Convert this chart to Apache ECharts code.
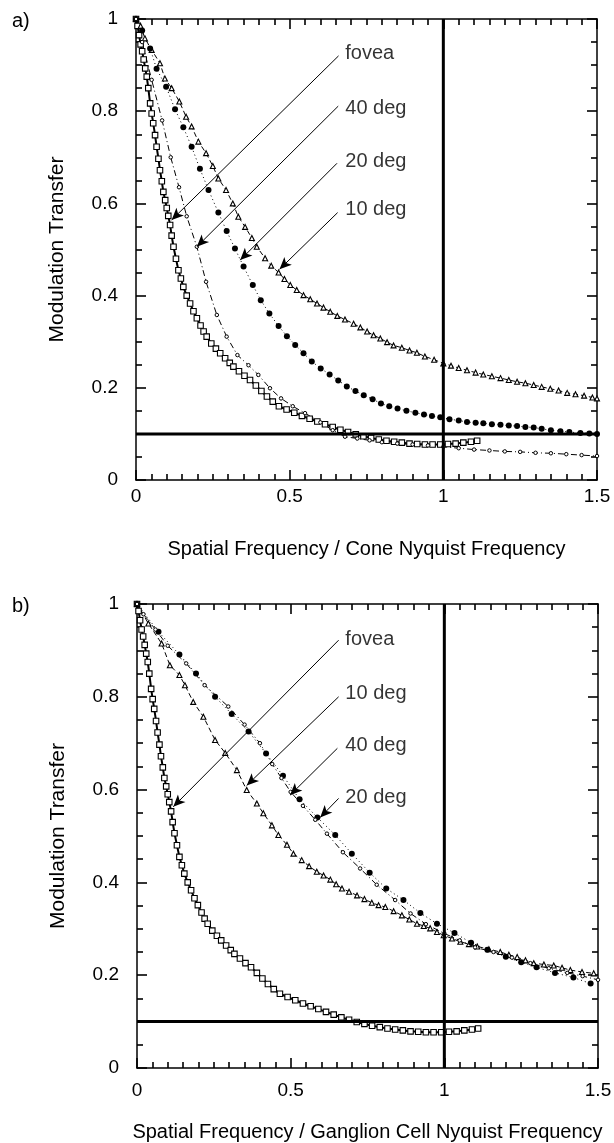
<!DOCTYPE html>
<html><head><meta charset="utf-8">
<script src="https://cdn.jsdelivr.net/npm/echarts@6/dist/echarts.min.js"></script>
<style>html,body{margin:0;padding:0;background:#fff}#c{width:614px;height:1143px}</style>
</head><body><div id="c"></div>
<script>
// ---------- data ----------
const xRange = [0, 1.5];
const yRange = [0, 1];
const panelLabels = ['a)', 'b)'];
const xTitles = ['Spatial Frequency / Cone Nyquist Frequency', 'Spatial Frequency / Ganglion Cell Nyquist Frequency'];
const yTitle = 'Modulation Transfer';

const fovea = [[0,1],[0.005,0.985],[0.01,0.965],[0.015,0.945],[0.02,0.93],[0.025,0.912],[0.03,0.893],[0.035,0.875],[0.04,0.85],[0.046,0.817],[0.051,0.795],[0.056,0.774],[0.062,0.748],[0.067,0.723],[0.073,0.697],[0.078,0.672],[0.084,0.648],[0.089,0.625],[0.095,0.607],[0.1,0.59],[0.105,0.573],[0.111,0.553],[0.116,0.53],[0.122,0.506],[0.13,0.48],[0.138,0.455],[0.146,0.437],[0.154,0.419],[0.165,0.4],[0.176,0.383],[0.187,0.366],[0.198,0.351],[0.21,0.335],[0.22,0.322],[0.23,0.311],[0.245,0.296],[0.26,0.285],[0.274,0.275],[0.29,0.264],[0.305,0.254],[0.317,0.246],[0.335,0.236],[0.353,0.226],[0.371,0.217],[0.39,0.205],[0.408,0.193],[0.426,0.181],[0.445,0.17],[0.465,0.16],[0.49,0.153],[0.515,0.146],[0.54,0.139],[0.565,0.133],[0.59,0.127],[0.615,0.121],[0.64,0.115],[0.665,0.109],[0.69,0.104],[0.715,0.099],[0.74,0.095],[0.765,0.091],[0.79,0.088],[0.815,0.085],[0.84,0.083],[0.865,0.081],[0.89,0.079],[0.915,0.078],[0.94,0.077],[0.965,0.077],[0.99,0.077],[1.015,0.078],[1.04,0.079],[1.065,0.081],[1.09,0.083],[1.11,0.085]];

const a10 = [[0,1],[0.015,0.985],[0.029,0.958],[0.051,0.933],[0.078,0.904],[0.094,0.871],[0.116,0.85],[0.141,0.821],[0.163,0.788],[0.181,0.767],[0.203,0.734],[0.228,0.709],[0.25,0.681],[0.268,0.654],[0.293,0.629],[0.315,0.6],[0.333,0.571],[0.355,0.549],[0.377,0.525],[0.393,0.506],[0.42,0.481],[0.44,0.465],[0.464,0.45],[0.483,0.436],[0.502,0.423],[0.523,0.412],[0.545,0.401],[0.567,0.392],[0.589,0.383],[0.61,0.374],[0.632,0.365],[0.655,0.356],[0.68,0.348],[0.708,0.339],[0.73,0.331],[0.752,0.322],[0.773,0.314],[0.795,0.307],[0.817,0.299],[0.838,0.292],[0.865,0.287],[0.89,0.281],[0.914,0.276],[0.94,0.268],[0.97,0.261],[1.0,0.253],[1.025,0.248],[1.05,0.243],[1.077,0.238],[1.105,0.233],[1.13,0.229],[1.158,0.225],[1.186,0.221],[1.213,0.217],[1.24,0.213],[1.267,0.21],[1.294,0.206],[1.32,0.202],[1.348,0.198],[1.375,0.194],[1.403,0.189],[1.43,0.186],[1.458,0.183],[1.485,0.179],[1.5,0.177]];

const a20 = [[0,1],[0.02,0.975],[0.046,0.936],[0.067,0.892],[0.098,0.853],[0.127,0.804],[0.154,0.765],[0.181,0.723],[0.208,0.675],[0.236,0.629],[0.268,0.58],[0.295,0.54],[0.322,0.502],[0.35,0.463],[0.38,0.423],[0.406,0.39],[0.434,0.361],[0.464,0.334],[0.491,0.312],[0.518,0.293],[0.545,0.275],[0.572,0.257],[0.601,0.242],[0.63,0.229],[0.658,0.216],[0.686,0.203],[0.714,0.193],[0.741,0.184],[0.77,0.175],[0.797,0.166],[0.824,0.16],[0.851,0.155],[0.88,0.15],[0.909,0.146],[0.937,0.142],[0.963,0.139],[0.99,0.136],[1.02,0.132],[1.05,0.129],[1.077,0.126],[1.105,0.124],[1.13,0.123],[1.158,0.121],[1.186,0.12],[1.213,0.118],[1.24,0.117],[1.267,0.115],[1.294,0.114],[1.32,0.111],[1.35,0.108],[1.381,0.106],[1.41,0.104],[1.446,0.102],[1.475,0.101],[1.5,0.1]];

const a40 = [[0,1],[0.02,0.95],[0.051,0.868],[0.085,0.78],[0.113,0.70],[0.14,0.635],[0.165,0.572],[0.198,0.506],[0.228,0.43],[0.263,0.358],[0.295,0.311],[0.33,0.271],[0.366,0.249],[0.398,0.228],[0.436,0.199],[0.472,0.177],[0.51,0.16],[0.55,0.145],[0.6,0.125],[0.64,0.108],[0.68,0.094],[0.72,0.09],[0.76,0.086],[0.8,0.082],[0.85,0.079],[0.9,0.077],[0.95,0.075],[1.0,0.072],[1.05,0.069],[1.1,0.066],[1.15,0.064],[1.2,0.062],[1.25,0.061],[1.3,0.059],[1.35,0.058],[1.4,0.056],[1.45,0.054],[1.5,0.052]];

const b10 = [[0,1],[0.037,0.958],[0.08,0.915],[0.107,0.868],[0.138,0.847],[0.156,0.825],[0.183,0.789],[0.216,0.757],[0.254,0.707],[0.287,0.679],[0.325,0.642],[0.357,0.599],[0.39,0.57],[0.411,0.549],[0.439,0.523],[0.46,0.502],[0.488,0.481],[0.509,0.462],[0.536,0.448],[0.56,0.435],[0.585,0.423],[0.607,0.415],[0.629,0.406],[0.648,0.396],[0.667,0.387],[0.69,0.38],[0.716,0.372],[0.74,0.364],[0.764,0.356],[0.786,0.351],[0.808,0.347],[0.835,0.338],[0.862,0.329],[0.886,0.32],[0.911,0.311],[0.933,0.306],[0.954,0.301],[0.976,0.293],[0.998,0.286],[1.025,0.279],[1.052,0.272],[1.08,0.267],[1.107,0.262],[1.145,0.256],[1.182,0.25],[1.21,0.244],[1.237,0.239],[1.264,0.232],[1.291,0.226],[1.324,0.223],[1.356,0.221],[1.383,0.216],[1.41,0.211],[1.448,0.207],[1.486,0.204]];

const b20 = [[0,1],[0.07,0.94],[0.138,0.891],[0.192,0.85],[0.254,0.8],[0.308,0.763],[0.363,0.725],[0.42,0.678],[0.475,0.63],[0.529,0.579],[0.587,0.54],[0.645,0.502],[0.699,0.462],[0.757,0.421],[0.811,0.387],[0.867,0.362],[0.922,0.334],[0.976,0.311],[1.033,0.291],[1.087,0.27],[1.14,0.255],[1.2,0.24],[1.25,0.228],[1.3,0.217],[1.36,0.205],[1.42,0.195],[1.476,0.182]];

const b40 = [[0,1],[0.021,0.978],[0.06,0.945],[0.1,0.91],[0.16,0.872],[0.22,0.825],[0.297,0.779],[0.35,0.74],[0.4,0.7],[0.44,0.655],[0.47,0.625],[0.5,0.595],[0.54,0.565],[0.58,0.535],[0.618,0.505],[0.67,0.465],[0.726,0.43],[0.78,0.395],[0.84,0.362],[0.89,0.333],[0.94,0.31],[1.0,0.29],[1.05,0.275],[1.1,0.26],[1.16,0.25],[1.22,0.238],[1.28,0.226],[1.34,0.215],[1.4,0.205],[1.45,0.198],[1.5,0.19]];

const thresholdLine = [[0,0.1],[1.5,0.1]];
const nyquistLine = [[1,0],[1,1]];

// annotation labels: [text, x, y] and arrows: [from, to] in data units
const labelsA = [['fovea',0.681,0.926],['40 deg',0.681,0.806],['20 deg',0.681,0.690],['10 deg',0.681,0.586]];
const arrowsA = [[[0.659,0.920],[0.116,0.564]],[[0.658,0.811],[0.198,0.506]],[[0.654,0.687],[0.339,0.477]],[[0.656,0.580],[0.467,0.457]]];
const labelsB = [['fovea',0.678,0.924],['10 deg',0.678,0.807],['40 deg',0.678,0.694],['20 deg',0.678,0.583]];
const arrowsB = [[[0.656,0.922],[0.118,0.563]],[[0.656,0.800],[0.357,0.609]],[[0.652,0.689],[0.498,0.588]],[[0.656,0.581],[0.596,0.540]]];

// ---------- chart ----------
const FONT = 'Liberation Sans, Arial, Helvetica, sans-serif';
const black = '#000';

function xAxes(gi, name, gap, labelMargin) {
  const mk = (pos) => ({gridIndex: gi, type: 'value', min: xRange[0], max: xRange[1], interval: 0.5, position: pos,
    splitLine: {show: false},
    axisLine: {show: true, onZero: false, lineStyle: {color: black, width: 1.5}},
    axisTick: {show: true, inside: true, length: 10, lineStyle: {color: black, width: 1.6}},
    minorTick: {show: true, splitNumber: 10, length: 6, lineStyle: {color: black, width: 1.6}}});
  const bottom = mk('bottom');
  bottom.axisLabel = {show: true, color: black, fontSize: 19, fontFamily: FONT, margin: labelMargin};
  bottom.name = name; bottom.nameLocation = 'middle'; bottom.nameGap = gap;
  bottom.nameTextStyle = {color: black, fontSize: 20, fontFamily: FONT};
  const top = mk('top');
  top.axisLabel = {show: false};
  return [bottom, top];
}
function yAxes(gi) {
  const mk = (pos) => ({gridIndex: gi, type: 'value', min: yRange[0], max: yRange[1], interval: 0.2, position: pos,
    splitLine: {show: false},
    axisLine: {show: true, onZero: false, lineStyle: {color: black, width: 1.5}},
    axisTick: {show: true, inside: true, length: 10, lineStyle: {color: black, width: 1.6}},
    minorTick: {show: true, splitNumber: 4, length: 6, lineStyle: {color: black, width: 1.6}}});
  const left = mk('left');
  left.axisLabel = {show: true, color: black, fontSize: 19, fontFamily: FONT, margin: 18};
  left.name = yTitle; left.nameLocation = 'middle'; left.nameGap = 68;
  left.nameTextStyle = {color: black, fontSize: 21, fontFamily: FONT};
  const right = mk('right');
  right.axisLabel = {show: false};
  return [left, right];
}

function curve(name, data, gi, opts) {
  return Object.assign({
    name: name, type: 'line', xAxisIndex: gi * 2, yAxisIndex: gi * 2, data: data,
    showAllSymbol: true, animation: false, silent: true, z: 3
  }, opts);
}
const styleFovea = {symbol: 'rect', symbolSize: 5.5, itemStyle: {color: '#fff', borderColor: black, borderWidth: 1.1}, lineStyle: {color: black, width: 2}};
const style10 = {symbol: 'triangle', symbolSize: 5, itemStyle: {color: '#fff', borderColor: black, borderWidth: 1.1}, lineStyle: {color: black, width: 1, type: [5, 3]}};
const style20 = {symbol: 'circle', symbolSize: 6, itemStyle: {color: black}, lineStyle: {color: black, width: 1, type: [1, 3]}};
const style40 = {symbol: 'circle', symbolSize: 3.5, itemStyle: {color: '#fff', borderColor: black, borderWidth: 1}, lineStyle: {color: black, width: 1, type: [6, 3, 1, 3]}};

function refLine(data, gi) {
  return {type: 'line', xAxisIndex: gi * 2, yAxisIndex: gi * 2, data: data, symbol: 'none',
    lineStyle: {color: black, width: 3}, animation: false, silent: true, z: 4};
}
function annotations(labels, arrows, gi) {
  return {type: 'scatter', xAxisIndex: gi * 2, yAxisIndex: gi * 2, symbolSize: 0, animation: false, silent: true, z: 5,
    data: labels.map(l => ({value: [l[1], l[2]], name: l[0]})),
    label: {show: true, position: 'right', distance: 0, formatter: p => p.name, color: black, fontSize: 20, fontFamily: FONT},
    markLine: {silent: true, animation: false, symbol: ['none', 'arrow'], symbolSize: [8, 12],
      label: {show: false}, lineStyle: {color: black, width: 1, type: 'solid'},
      emphasis: {disabled: true},
      data: arrows.map(a => [{coord: a[0]}, {coord: a[1]}])}
  };
}

const chart = echarts.init(document.getElementById('c'), null, {renderer: 'canvas'});
chart.setOption({
  backgroundColor: '#fff',
  animation: false,
  title: [
    {text: panelLabels[0], left: 7, top: 6, textStyle: {color: black, fontSize: 20, fontWeight: 'normal', fontFamily: FONT}},
    {text: panelLabels[1], left: 7, top: 591, textStyle: {color: black, fontSize: 20, fontWeight: 'normal', fontFamily: FONT}}
  ],
  grid: [
    {left: 136, top: 19, width: 461, height: 461, outerBoundsMode: 'none'},
    {left: 137, top: 604, width: 461, height: 464, outerBoundsMode: 'none'}
  ],
  xAxis: [...xAxes(0, xTitles[0], 59, 7), ...xAxes(1, xTitles[1], 54, 13)],
  yAxis: [...yAxes(0), ...yAxes(1)],
  series: [
    curve('fovea', fovea, 0, styleFovea),
    curve('10 deg', a10, 0, style10),
    curve('20 deg', a20, 0, style20),
    curve('40 deg', a40, 0, style40),
    refLine(thresholdLine, 0), refLine(nyquistLine, 0),
    annotations(labelsA, arrowsA, 0),
    curve('fovea', fovea, 1, styleFovea),
    curve('10 deg', b10, 1, style10),
    curve('20 deg', b20, 1, style20),
    curve('40 deg', b40, 1, style40),
    refLine(thresholdLine, 1), refLine(nyquistLine, 1),
    annotations(labelsB, arrowsB, 1)
  ]
});
</script></body></html>
